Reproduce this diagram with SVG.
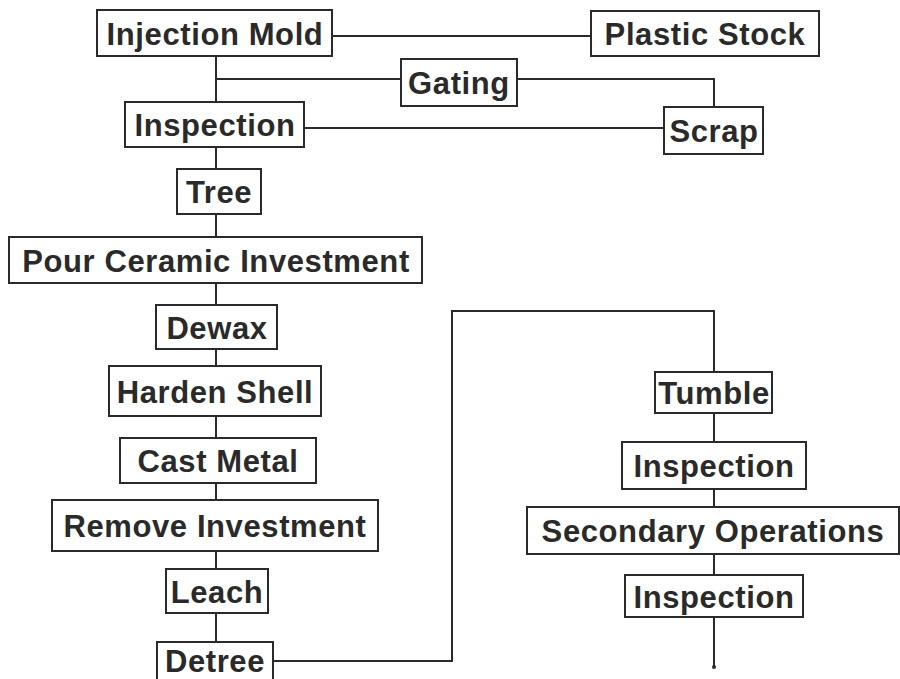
<svg xmlns="http://www.w3.org/2000/svg" width="900" height="679" viewBox="0 0 900 679">
<style>
.b{fill:#fff;stroke:#2a2a2a;stroke-width:2}
.t{font-family:"Liberation Sans",Arial,sans-serif;font-weight:bold;font-size:31px;fill:#2a2a2a;text-anchor:middle;letter-spacing:0.6px}
.c{fill:none;stroke:#2a2a2a;stroke-width:2}
</style>
<rect width="900" height="679" fill="#fff"/>
<g id="connectors" class="c">
<line x1="332" y1="36" x2="591" y2="36"/>
<line x1="216" y1="56" x2="216" y2="102"/>
<line x1="216" y1="79" x2="401" y2="79"/>
<polyline points="517,79 714,79 714,107"/>
<line x1="304" y1="128" x2="664" y2="128"/>
<line x1="216" y1="147" x2="216" y2="169"/>
<line x1="216" y1="214" x2="216" y2="237"/>
<line x1="216" y1="283" x2="216" y2="305"/>
<line x1="216" y1="349" x2="216" y2="366"/>
<line x1="216" y1="416" x2="216" y2="438"/>
<line x1="216" y1="483" x2="216" y2="500"/>
<line x1="216" y1="551" x2="216" y2="569"/>
<line x1="216" y1="613" x2="216" y2="642"/>
<polyline points="273,661 452,661 452,311 714,311 714,372"/>
<line x1="714" y1="413" x2="714" y2="442"/>
<line x1="714" y1="489" x2="714" y2="507"/>
<line x1="714" y1="554" x2="714" y2="575"/>
<line x1="714" y1="617" x2="714" y2="667"/>
<circle cx="714" cy="667" r="2" fill="#2a2a2a" stroke="none"/>
</g>
<g id="injection-mold"><rect class="b" x="97" y="10" width="235" height="46"/><text class="t" x="215" y="45">Injection Mold</text></g>
<g id="plastic-stock"><rect class="b" x="591" y="11" width="228" height="45"/><text class="t" x="705" y="45">Plastic Stock</text></g>
<g id="gating"><rect class="b" x="401" y="59" width="116" height="47"/><text class="t" x="459" y="94">Gating</text></g>
<g id="inspection-1"><rect class="b" x="125" y="102" width="179" height="45"/><text class="t" x="215" y="136">Inspection</text></g>
<g id="scrap"><rect class="b" x="664" y="107" width="99" height="47"/><text class="t" x="714" y="142">Scrap</text></g>
<g id="tree"><rect class="b" x="177" y="169" width="84" height="45"/><text class="t" x="219" y="203">Tree</text></g>
<g id="pour-ceramic"><rect class="b" x="9" y="237" width="413" height="46"/><text class="t" x="216" y="272">Pour Ceramic Investment</text></g>
<g id="dewax"><rect class="b" x="156" y="305" width="121" height="44"/><text class="t" x="217" y="339">Dewax</text></g>
<g id="harden-shell"><rect class="b" x="109" y="366" width="212" height="50"/><text class="t" x="215" y="403">Harden Shell</text></g>
<g id="cast-metal"><rect class="b" x="120" y="438" width="196" height="45"/><text class="t" x="218" y="472">Cast Metal</text></g>
<g id="remove-investment"><rect class="b" x="52" y="500" width="326" height="51"/><text class="t" x="215" y="537">Remove Investment</text></g>
<g id="leach"><rect class="b" x="166" y="569" width="102" height="44"/><text class="t" x="217" y="603">Leach</text></g>
<g id="detree"><rect class="b" x="157" y="642" width="116" height="42"/><text class="t" x="215" y="672">Detree</text></g>
<g id="tumble"><rect class="b" x="655" y="372" width="117" height="41"/><text class="t" x="714" y="404">Tumble</text></g>
<g id="inspection-2"><rect class="b" x="622" y="442" width="184" height="47"/><text class="t" x="714" y="477">Inspection</text></g>
<g id="secondary-operations"><rect class="b" x="527" y="507" width="372" height="47"/><text class="t" x="713" y="542">Secondary Operations</text></g>
<g id="inspection-3"><rect class="b" x="625" y="575" width="178" height="42"/><text class="t" x="714" y="608">Inspection</text></g>
</svg>
